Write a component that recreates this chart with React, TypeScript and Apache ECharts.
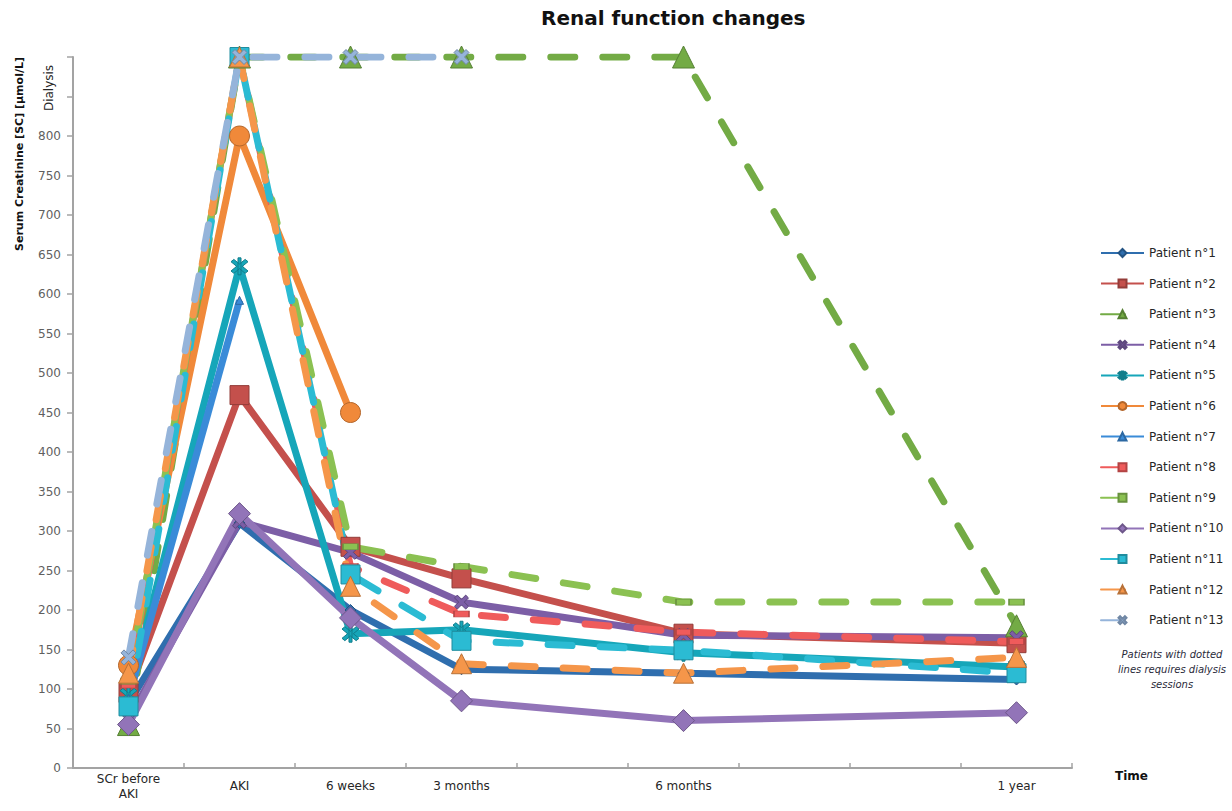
import React, { useEffect, useRef } from "react";
import * as echarts from "echarts";

// 9 equal category slots on the x axis; the 6 time points sit on some of them
const categories = ["SCr before\nAKI", "AKI", "6 weeks", "3 months", " ", "6 months", "  ", "   ", "1 year"];
const timeSlots = [0, 1, 2, 3, 5, 8];

const yTicksMax = 900;
const yInterval = 50;
const yHiddenLabels = [850, 900];

const patientNames = [
  "Patient n°1", "Patient n°2", "Patient n°3", "Patient n°4", "Patient n°5", "Patient n°6", "Patient n°7",
  "Patient n°8", "Patient n°9", "Patient n°10", "Patient n°11", "Patient n°12", "Patient n°13",
];

// values: SCr before AKI, AKI, 6 weeks, 3 months, 6 months, 1 year (900 = dialysis)
const p1 = [82, 310, 200, 125, 120, 112];
const p2 = [95, 472, 280, 240, 170, 158];
const p3 = [55, 900, 900, 900, 900, 180];
const p4 = [62, 312, 273, 210, 168, 165];
const p5 = [92, 635, 170, 175, 146, 128];
const p6 = [130, 800, 450, null, null, null];
const p7 = [88, 592, null, null, null, null];
const p8 = [105, 900, 255, 195, 172, 160];
const p9 = [110, 900, 280, 255, 210, 210];
const p10 = [55, 322, 190, 85, 60, 70];
const p11 = [78, 900, 245, 161, 149, 120];
const p12 = [120, 900, 230, 132, 120, 140];
const p13 = [140, 900, 900, 900, null, null];

const patientValues = [p1, p2, p3, p4, p5, p6, p7, p8, p9, p10, p11, p12, p13];

const X_PATH = "path://M2,0L5,3L8,0L10,2L7,5L10,8L8,10L5,7L2,10L0,8L3,5L0,2Z";
const STAR_PATH =
  "path://M2,1L5,4L8,1L9.5,2.5L6.5,5.5L9.5,8.5L8,10L5,7L2,10L0.5,8.5L3.5,5.5L0.5,2.5Z M4.2,0L5.8,0L5.8,11L4.2,11Z";

const styles = [
  { color: "#2f6eae", dashed: false, symbol: "diamond", size: 11 },
  { color: "#c4504c", dashed: false, symbol: "rect", size: 19 },
  { color: "#73ab45", dashed: true, symbol: "triangle", size: 22 },
  { color: "#7c5ea6", dashed: false, symbol: X_PATH, size: 14 },
  { color: "#16a6b9", dashed: false, symbol: STAR_PATH, size: 17 },
  { color: "#f0893a", dashed: false, symbol: "circle", size: 20 },
  { color: "#3a8bd8", dashed: false, symbol: "triangle", size: 8 },
  { color: "#ef5b5b", dashed: true, symbol: "rect", size: [15, 6] },
  { color: "#8bc152", dashed: true, symbol: "rect", size: [15, 6] },
  { color: "#9274b8", dashed: false, symbol: "diamond", size: 22 },
  { color: "#2bbbd3", dashed: true, symbol: "rect", size: 19 },
  { color: "#f5964a", dashed: true, symbol: "triangle", size: 20 },
  { color: "#95b4da", dashed: true, symbol: X_PATH, size: 15 },
];

function darken(hex: string, f: number) {
  const n = parseInt(hex.slice(1), 16);
  const r = Math.round(((n >> 16) & 255) * f);
  const g = Math.round(((n >> 8) & 255) * f);
  const b = Math.round((n & 255) * f);
  return `rgb(${r},${g},${b})`;
}

export default function App() {
  const ref = useRef<HTMLDivElement>(null);

  useEffect(() => {
    if (!ref.current) return;
    const chart = echarts.init(ref.current, null, { renderer: "svg" });

    const series = patientValues.map((vals, i) => {
      const s = styles[i];
      const data = vals
        .map((v, k) => (v == null ? null : [timeSlots[k], v]))
        .filter((d) => d !== null);
      return {
        name: patientNames[i],
        type: "line",
        data,
        symbol: s.symbol,
        symbolSize: s.size,
        showSymbol: true,
        lineStyle: {
          color: s.color,
          width: 7,
          type: s.dashed ? [24, 28] : "solid",
          cap: s.dashed ? "round" : "butt",
          join: "round",
        },
        itemStyle: {
          color: s.color,
          borderColor: darken(s.color, 0.75),
          borderWidth: 1,
        },
        emphasis: { disabled: true },
      };
    });

    chart.setOption({
      animation: false,
      textStyle: { fontFamily: "DejaVu Sans" },
      grid: { left: 73, right: 160, top: 57, bottom: 43, containLabel: false },
      xAxis: {
        type: "category",
        data: categories,
        boundaryGap: true,
        axisLine: { lineStyle: { color: "#a3a3a3", width: 2 } },
        axisTick: { show: true, inside: true, length: 5, lineStyle: { color: "#a3a3a3", width: 1.5 } },
        axisLabel: {
          interval: 0,
          color: "#262626",
          fontSize: 12,
          margin: 18,
          verticalAlign: "middle",
          lineHeight: 15,
        },
        splitLine: { show: false },
      },
      yAxis: {
        type: "value",
        min: 0,
        max: yTicksMax,
        interval: yInterval,
        axisLine: { show: true, lineStyle: { color: "#a3a3a3", width: 2 } },
        axisTick: { show: true, length: 6, lineStyle: { color: "#a3a3a3", width: 1.5 } },
        axisLabel: {
          color: "#5f5f5f",
          fontSize: 12,
          margin: 12,
          formatter: (v: number) => (yHiddenLabels.indexOf(v) >= 0 ? "" : String(v)),
        },
        splitLine: { show: false },
      },
      legend: {
        orient: "vertical",
        left: 1100,
        top: 247,
        padding: 0,
        itemWidth: 43,
        itemHeight: 10,
        itemGap: 18.6,
        textStyle: { fontSize: 12, color: "#262626", fontFamily: "DejaVu Sans" },
        data: patientNames,
      },
      graphic: [
        {
          type: "text",
          left: 541,
          top: 8,
          style: {
            text: "Renal function changes",
            fontSize: 20,
            fontWeight: "bold",
            fill: "#111",
            fontFamily: "DejaVu Sans",
          },
        },
        {
          type: "text",
          x: 19,
          y: 154,
          rotation: Math.PI / 2,
          style: {
            text: "Serum Creatinine [SC] [µmol/L]",
            fontSize: 11,
            fontWeight: "bold",
            fill: "#111",
            align: "center",
            verticalAlign: "middle",
            fontFamily: "DejaVu Sans",
          },
        },
        {
          type: "text",
          x: 49,
          y: 88,
          rotation: Math.PI / 2,
          style: {
            text: "Dialysis",
            fontSize: 12,
            fill: "#262626",
            align: "center",
            verticalAlign: "middle",
            fontFamily: "DejaVu Sans",
          },
        },
        {
          type: "text",
          x: 1115,
          y: 776,
          style: {
            text: "Time",
            fontSize: 12,
            fontWeight: "bold",
            fill: "#111",
            verticalAlign: "middle",
            fontFamily: "DejaVu Sans",
          },
        },
        {
          type: "text",
          x: 1172,
          y: 669,
          style: {
            text: "Patients with dotted\nlines requires dialysis\nsessions",
            fontSize: 10,
            fontStyle: "italic",
            fill: "#2a2a3a",
            align: "center",
            verticalAlign: "middle",
            lineHeight: 15,
            fontFamily: "DejaVu Sans",
          },
        },
      ],
      series,
    });

    return () => chart.dispose();
  }, []);

  return (
    <div
      ref={ref}
      style={{ position: "fixed", left: 0, top: 0, width: 1232, height: 811, background: "#fff" }}
    />
  );
}
